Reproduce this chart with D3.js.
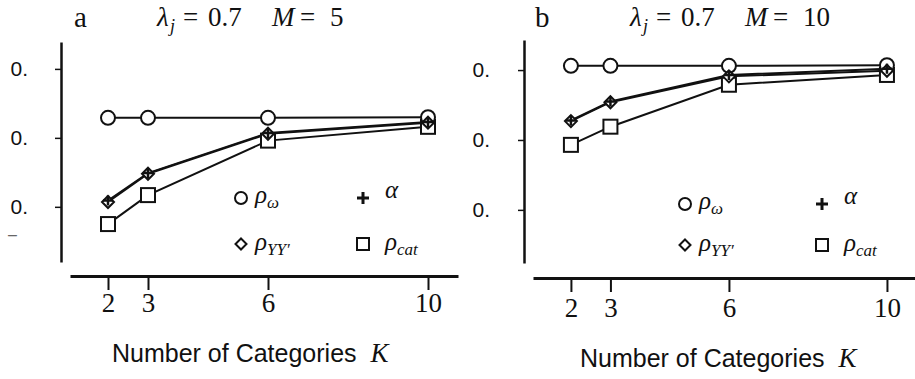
<!DOCTYPE html>
<html>
<head>
<meta charset="utf-8">
<script src="https://cdn.jsdelivr.net/npm/d3@7"></script>
<style>
  body { margin: 0; background: #fff; }
  svg { display: block; }
</style>
</head>
<body>
<div id="chart"></div>
<script>
// K values on the x axis
const K = [2, 3, 6, 10]
const yTickValues = [0.7, 0.8, 0.9]
const yTickLabels = ['0.', '0.', '0.']

// panel a  (lambda = 0.7, M = 5)
const aRhoOmega = [0.829, 0.829, 0.829, 0.830]
const aRhoYY = [0.707, 0.748, 0.806, 0.822]
const aAlpha = [0.709, 0.749, 0.807, 0.823]
const aRhoCat = [0.675, 0.717, 0.796, 0.816]

// panel b  (lambda = 0.7, M = 10)
const bRhoOmega = [0.906, 0.906, 0.906, 0.907]
const bRhoYY = [0.827, 0.854, 0.891, 0.899]
const bAlpha = [0.828, 0.855, 0.893, 0.902]
const bRhoCat = [0.793, 0.819, 0.879, 0.893]

const WIDTH = 915
const HEIGHT = 379
const INK = '#111'
const SERIF = '"Liberation Serif", "DejaVu Serif", serif'
const SANS = '"Liberation Sans", Arial, sans-serif'

const svg = d3.select('#chart').append('svg')
  .attr('width', WIDTH)
  .attr('height', HEIGHT)

function drawPanel(cfg) {
  const g = svg.append('g')

  const x = d3.scaleLinear().domain(cfg.xDomain).range(cfg.xRange)
  const y = d3.scaleLinear().domain(cfg.yDomain).range(cfg.yRange)

  // y axis
  const yAxisGroup = g.append('g')
    .attr('transform', `translate(${cfg.yAxisX}, 0)`)
    .call(d3.axisLeft(y)
      .tickValues(yTickValues)
      .tickFormat((d, i) => yTickLabels[i])
      .tickSize(6)
      .tickSizeOuter(0)
      .tickPadding(cfg.yPad))
  yAxisGroup.select('.domain').attr('stroke', INK).attr('stroke-width', 2.5)
  yAxisGroup.selectAll('.tick line').attr('stroke', INK).attr('stroke-width', 1.5)
  yAxisGroup.selectAll('.tick text')
    .attr('fill', INK)
    .style('font-family', SANS)
    .style('font-size', '21px')

  // x axis
  const xAxisGroup = g.append('g')
    .attr('transform', `translate(0, ${cfg.xAxisY})`)
    .call(d3.axisBottom(x)
      .tickValues(K)
      .tickSize(14)
      .tickSizeOuter(0)
      .tickPadding(cfg.xPad))
  xAxisGroup.select('.domain').attr('stroke', INK).attr('stroke-width', 3)
  xAxisGroup.selectAll('.tick line').attr('stroke', INK).attr('stroke-width', 2)
  xAxisGroup.selectAll('.tick text')
    .attr('fill', INK)
    .style('font-family', SERIF)
    .style('font-size', '27px')

  // lines
  const line = d3.line()
    .x((d, i) => x(K[i]))
    .y(d => y(d))

  const series = [cfg.rhoCat, cfg.alpha, cfg.rhoYY, cfg.rhoOmega]
  series.forEach(s => {
    g.append('path')
      .datum(s)
      .attr('fill', 'none')
      .attr('stroke', INK)
      .attr('stroke-width', 2)
      .attr('d', line)
  })

  // markers
  g.selectAll('rect.cat')
    .data(cfg.rhoCat)
    .enter()
    .append('rect')
    .attr('x', (d, i) => x(K[i]) - 7)
    .attr('y', d => y(d) - 7)
    .attr('width', 14)
    .attr('height', 14)
    .attr('fill', '#fff')
    .attr('stroke', INK)
    .attr('stroke-width', 2)

  g.selectAll('circle.omega')
    .data(cfg.rhoOmega)
    .enter()
    .append('circle')
    .attr('cx', (d, i) => x(K[i]))
    .attr('cy', d => y(d))
    .attr('r', 7)
    .attr('fill', '#fff')
    .attr('stroke', INK)
    .attr('stroke-width', 2)

  g.selectAll('path.yy')
    .data(cfg.rhoYY)
    .enter()
    .append('path')
    .attr('d', 'M0,-6L6,0L0,6L-6,0Z')
    .attr('transform', (d, i) => `translate(${x(K[i])}, ${y(d)})`)
    .attr('fill', '#fff')
    .attr('stroke', INK)
    .attr('stroke-width', 2)

  g.selectAll('path.alpha')
    .data(cfg.alpha)
    .enter()
    .append('path')
    .attr('d', 'M-5,0H5M0,-5V5')
    .attr('transform', (d, i) => `translate(${x(K[i])}, ${y(d)})`)
    .attr('fill', 'none')
    .attr('stroke', INK)
    .attr('stroke-width', 2.5)

  // panel letter
  g.append('text')
    .attr('x', cfg.letterX)
    .attr('y', 27)
    .style('font-family', SERIF)
    .style('font-size', '29px')
    .attr('fill', INK)
    .text(cfg.letter)

  // title pieces, spaced like the original
  const tx = cfg.titleX
  const tpiece = (dx, str, italic, size, dy) => {
    g.append('text')
      .attr('x', tx + dx)
      .attr('y', 26 + (dy || 0))
      .style('font-family', SERIF)
      .style('font-style', italic ? 'italic' : 'normal')
      .style('font-size', (size || 27) + 'px')
      .attr('fill', INK)
      .text(str)
  }
  tpiece(0, 'λ', true)
  tpiece(13, 'j', true, 18, 6)
  tpiece(26, '=', false)
  tpiece(51, '0.7', false)
  tpiece(115, 'M', true)
  tpiece(143, '=', false)
  tpiece(173, String(cfg.M), false)

  // x axis title
  const xt = g.append('text')
    .attr('x', cfg.xTitleX)
    .attr('y', cfg.xTitleY)
    .style('white-space', 'pre')
    .attr('fill', INK)
  xt.append('tspan')
    .style('font-family', SANS)
    .style('font-size', '25px')
    .text('Number of Categories  ')
  xt.append('tspan')
    .style('font-family', SERIF)
    .style('font-style', 'italic')
    .style('font-size', '27px')
    .text('K')

  // legend
  const lg = cfg.legend
  g.append('circle')
    .attr('cx', lg.c1x).attr('cy', lg.r1y).attr('r', 6)
    .attr('fill', 'none').attr('stroke', INK).attr('stroke-width', 2)
  g.append('path')
    .attr('d', 'M-6,0H6M0,-6V6')
    .attr('transform', `translate(${lg.c2x}, ${lg.r1y})`)
    .attr('stroke', INK).attr('stroke-width', 3)
  g.append('path')
    .attr('d', 'M0,-5.5L5.5,0L0,5.5L-5.5,0Z')
    .attr('transform', `translate(${lg.c1x}, ${lg.r2y})`)
    .attr('fill', 'none').attr('stroke', INK).attr('stroke-width', 2)
  g.append('rect')
    .attr('x', lg.c2x - 6).attr('y', lg.r2y - 6).attr('width', 12).attr('height', 12)
    .attr('fill', 'none').attr('stroke', INK).attr('stroke-width', 2)

  const legendText = (lx, ly, main, sub) => {
    const t = g.append('text')
      .attr('x', lx).attr('y', ly)
      .style('font-family', SERIF)
      .style('font-style', 'italic')
      .style('font-size', '25px')
      .attr('fill', INK)
    t.append('tspan').text(main)
    if (sub) t.append('tspan').attr('dy', 5).style('font-size', '17px').text(sub)
  }
  legendText(lg.c1x + 14, lg.r1y + 5, 'ρ', 'ω')
  legendText(lg.c2x + 22, lg.r1y, 'α')
  legendText(lg.c1x + 14, lg.r2y + 6, 'ρ', 'YY′')
  legendText(lg.c2x + 22, lg.r2y + 6, 'ρ', 'cat')
}

drawPanel({
  letter: 'a', letterX: 74, titleX: 157, M: 5,
  xDomain: [1.05, 10.75], xRange: [70, 458], xAxisY: 276, xPad: 3,
  yDomain: [0.620, 0.939], yRange: [262, 42], yAxisX: 61, yPad: 27,
  xTitleX: 112, xTitleY: 362,
  rhoOmega: aRhoOmega, rhoYY: aRhoYY, alpha: aAlpha, rhoCat: aRhoCat,
  legend: { c1x: 241, c2x: 363, r1y: 198, r2y: 244 }
})

drawPanel({
  letter: 'b', letterX: 535, titleX: 630, M: 10,
  xDomain: [1.04, 10.71], xRange: [533, 915], xAxisY: 278, xPad: 6,
  yDomain: [0.624, 0.943], yRange: [263, 40], yAxisX: 524, yPad: 28,
  xTitleX: 580, xTitleY: 367,
  rhoOmega: bRhoOmega, rhoYY: bRhoYY, alpha: bAlpha, rhoCat: bRhoCat,
  legend: { c1x: 685, c2x: 822, r1y: 204, r2y: 245 }
})

// clipped leftover label at the left edge
svg.append('text')
  .attr('x', 8)
  .attr('y', 240)
  .style('font-family', SANS)
  .style('font-size', '16px')
  .attr('fill', '#666')
  .text('–')
</script>
</body>
</html>
